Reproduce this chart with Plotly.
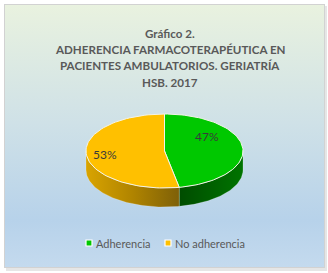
import base64
import numpy as np
import plotly.graph_objects as go

# ---------------- data ----------------
categories = ["Adherencia", "No adherencia"]
values = [47, 53]
title_lines = [
    "Gráfico 2.",
    "ADHERENCIA FARMACOTERAPÉUTICA EN",
    "PACIENTES AMBULATORIOS. GERIATRÍA",
    "HSB. 2017",
]

# ---------------- style ----------------
W, H = 328, 273
top_colors = ["#00c800", "#ffc000"]
side_scales = [
    [[0, "#004c00"], [1, "#007400"]],
    [[0, "#d9a400"], [0.5, "#b08400"], [1, "#7e6008"]],
]
cx, cy, rx, ry, depth = 164.5, 151.0, 78.5, 37.0, 19.0
label_r = [0.55, 0.76]
label_dy = [-13, 1]
FONT = "Lato"
TITLE_FONT = "Lato"
title_y = [33.5, 49.7, 65.9, 82.1]

fig = go.Figure()


def pts(a0, a1, dy=0.0, n=80):
    t = np.radians(np.linspace(a0, a1, n))
    return cx + rx * np.sin(t), cy - ry * np.cos(t) + dy


total = float(sum(values))
angles = []
acc = 0.0
for v in values:
    a0 = acc / total * 360.0
    acc += v
    a1 = acc / total * 360.0
    angles.append((a0, a1))

# side walls (front half only: 90..270 deg clockwise from top)
for i, (a0, a1) in enumerate(angles):
    s, e = max(a0, 90.0), min(a1, 270.0)
    if e <= s:
        continue
    xt, yt = pts(s, e)
    xb, yb = pts(e, s, dy=depth)
    xs = np.concatenate([xt, xb, xt[:1]])
    ys = np.concatenate([yt, yb, yt[:1]])
    fig.add_trace(go.Scatter(
        x=xs, y=ys, mode="lines", fill="toself",
        line=dict(color="rgba(255,255,255,0.35)", width=0.6),
        fillgradient=dict(type="horizontal", colorscale=side_scales[i],
                          start=float(xs.min()), stop=float(xs.max())),
        hoverinfo="skip", showlegend=False,
    ))

# top faces
for i, (a0, a1) in enumerate(angles):
    xa, ya = pts(a0, a1)
    xs = np.concatenate([[cx], xa, [cx]])
    ys = np.concatenate([[cy], ya, [cy]])
    fig.add_trace(go.Scatter(
        x=xs, y=ys, mode="lines", fill="toself", fillcolor=top_colors[i],
        line=dict(color="#f4f4e8", width=1),
        hoverinfo="skip", showlegend=False,
    ))

# data labels
for i, (a0, a1) in enumerate(angles):
    m = np.radians((a0 + a1) / 2)
    lx = cx + rx * label_r[i] * np.sin(m)
    ly = cy - ry * label_r[i] * np.cos(m) + label_dy[i]
    fig.add_annotation(x=lx, y=ly, text=f"{values[i] / total * 100:.0f}%",
                       showarrow=False, font=dict(family=FONT, size=12, color="#3a3a3a"))

# manual legend
leg_x = [89, 168]
leg_y = 243
fig.add_trace(go.Scatter(
    x=leg_x, y=[leg_y] * len(leg_x), mode="markers",
    marker=dict(symbol="square", size=6, color=top_colors,
                line=dict(color="#ffffff", width=1.2)),
    hoverinfo="skip", showlegend=False,
))
for xx, name in zip(leg_x, categories):
    fig.add_annotation(x=xx + 5, y=leg_y, text=name, xanchor="left", showarrow=False,
                       font=dict(family=FONT, size=11, color="#595959"))

# title, one annotation per line
for t, yy in zip(title_lines, title_y):
    fig.add_annotation(x=170, y=yy, text=f"<b>{t}</b>", showarrow=False,
                       font=dict(family=TITLE_FONT, size=11.6, color="#595959"))

# background (gradient panel, border, shadow)
svg = f"""<svg xmlns='http://www.w3.org/2000/svg' width='{W}' height='{H}' viewBox='0 0 {W} {H}' preserveAspectRatio='none'>
<defs><linearGradient id='g' x1='0' y1='0' x2='0' y2='1'>
<stop offset='0' stop-color='#e9f2df'/>
<stop offset='0.45' stop-color='#cfe1e7'/>
<stop offset='0.82' stop-color='#b7d2ea'/>
<stop offset='1' stop-color='#c4daee'/>
</linearGradient></defs>
<rect width='{W}' height='{H}' fill='#ffffff'/>
<rect x='6' y='6' width='321' height='265' fill='#e6e6e6'/>
<rect x='4.5' y='4.5' width='320' height='263' fill='url(#g)' stroke='#d2d2d2' stroke-width='1'/>
</svg>"""
src = "data:image/svg+xml;base64," + base64.b64encode(svg.encode()).decode()
fig.add_layout_image(dict(source=src, xref="paper", yref="paper", x=0, y=1,
                          sizex=1, sizey=1, sizing="stretch", xanchor="left",
                          yanchor="top", layer="below"))

fig.update_layout(
    width=W, height=H, margin=dict(l=0, r=0, t=0, b=0),
    paper_bgcolor="#ffffff", plot_bgcolor="rgba(0,0,0,0)",
    xaxis=dict(range=[0, W], visible=False, fixedrange=True),
    yaxis=dict(range=[H, 0], visible=False, fixedrange=True),
    showlegend=False,
)

fig.write_html("out.html", config={"displayModeBar": False},
               post_script="document.body.style.margin='0px';document.body.style.overflow='hidden';")
